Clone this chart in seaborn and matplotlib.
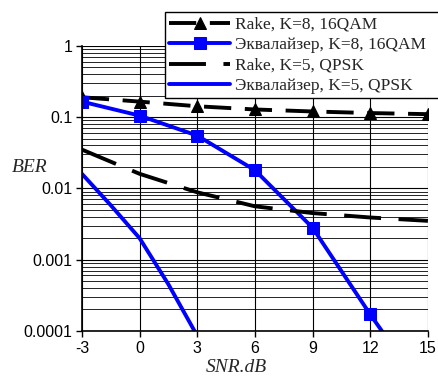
import matplotlib
matplotlib.use("Agg")
import matplotlib.pyplot as plt
import seaborn as sns
import pandas as pd
import numpy as np
from matplotlib.ticker import LogLocator, FixedLocator, FuncFormatter

# SNR points (dB)
snr = [-3, 0, 3, 6, 9, 12, 15]

# Rake, K=8, 16QAM
rake_k8 = [0.19, 0.165, 0.142, 0.128, 0.12, 0.114, 0.11]
# Equalizer, K=8, 16QAM
eq_k8_snr = [-3, 0, 3, 6, 9, 12, 15]
eq_k8 = [0.165, 0.105, 0.055, 0.018, 0.0028, 0.00017, 0.000012]
# Rake, K=5, QPSK
rake_k5 = [0.035, 0.016, 0.0088, 0.0056, 0.0045, 0.0039, 0.0035]
# Equalizer, K=5, QPSK
eq_k5_snr = [-3, -1.5, 0, 1.5, 3]
eq_k5 = [0.016, 0.0058, 0.002, 0.00045, 0.000085]

labels = ["Rake, K=8, 16QAM", "Эквалайзер, K=8, 16QAM",
          "Rake, K=5, QPSK", "Эквалайзер, K=5, QPSK"]

sns.set_style("white")
plt.rcParams['font.family'] = ['Liberation Sans', 'DejaVu Sans']
plt.rcParams['axes.unicode_minus'] = False

fig = plt.figure(figsize=(4.38, 3.79), dpi=100)
ax = fig.add_axes([0.187, 0.127, 0.79, 0.752])

blue = "#0000FF"
sns.lineplot(x=snr, y=rake_k8, ax=ax, color="black", lw=2.8,
             linestyle=(0, (7, 3.5)), marker="^", markersize=9,
             markeredgecolor="black", label=labels[0])
sns.lineplot(x=eq_k8_snr, y=eq_k8, ax=ax, color=blue, lw=2.8,
             marker="s", markersize=9, markeredgecolor=blue, label=labels[1])
sns.lineplot(x=snr, y=rake_k5, ax=ax, color="black", lw=2.8,
             linestyle=(0, (9.5, 4.5)), label=labels[2])
sns.lineplot(x=eq_k5_snr, y=eq_k5, ax=ax, color=blue, lw=2.8, label=labels[3])

ax.set_yscale("log")
ax.set_ylim(0.0001, 1)
ax.set_xlim(-3, 15)
ax.xaxis.set_major_locator(FixedLocator(snr))
ax.yaxis.set_major_locator(LogLocator(base=10, numticks=10))
ax.yaxis.set_minor_locator(LogLocator(base=10, subs=np.arange(2, 10), numticks=20))
ax.yaxis.set_major_formatter(FuncFormatter(lambda v, p: f"{v:g}" if v >= 0.001 else "0.0001"))
ax.yaxis.set_minor_formatter(FuncFormatter(lambda v, p: ""))

ax.grid(True, which="major", axis="both", color="black", lw=0.8)
ax.grid(True, which="minor", axis="y", color="black", lw=0.6)
ax.set_axisbelow(True)

for s in ["top", "right"]:
    ax.spines[s].set_visible(False)
ax.spines["left"].set_color("black")
ax.spines["left"].set_linewidth(1.2)
ax.spines["bottom"].set_color("black")
ax.spines["bottom"].set_linewidth(1.2)
ax.tick_params(axis="both", which="major", direction="out", length=4, width=1,
               color="black", labelsize=11.5, labelcolor="black", pad=3,
               left=True, bottom=True)
ax.tick_params(axis="y", which="minor", left=False)

ax.set_xlabel("SNR.dB", fontsize=14, style="italic", family="Liberation Serif",
              va="center")
ax.xaxis.set_label_coords(0.445, -0.13)
ax.set_ylabel("BER", fontsize=14, style="italic", family="Liberation Serif",
              rotation=0, va="center", ha="center")
ax.yaxis.set_label_coords(-0.15, 0.572)

# legend box runs past the right edge of the figure, as in the original
leg = ax.legend(loc="upper left", bbox_to_anchor=(0.377, 0.5, 0.7, 0.468),
                bbox_transform=fig.transFigure, mode="expand",
                frameon=True, fancybox=False,
                prop={"family": "Liberation Serif", "size": 12.5},
                handlelength=3.5, handletextpad=0.25, borderpad=0.25,
                labelspacing=0.25, borderaxespad=0)
leg.get_frame().set_edgecolor("black")
leg.get_frame().set_linewidth(1.0)
leg.get_frame().set_alpha(1)

fig.savefig("out.png", dpi=100)
